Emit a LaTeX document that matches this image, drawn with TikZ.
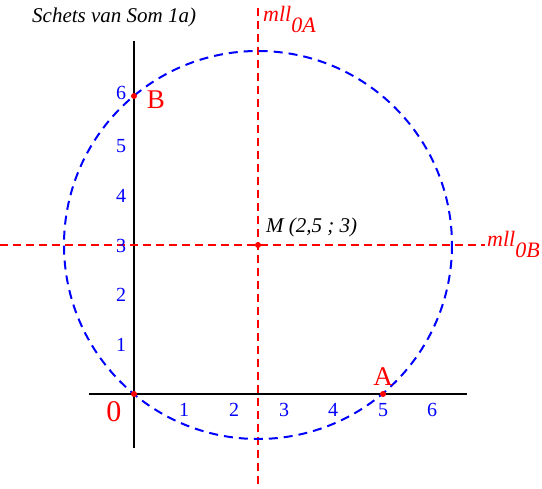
\documentclass[tikz,border=0pt]{standalone}
\usepackage{fontspec}
\setmainfont{Liberation Serif}
\begin{document}
\begin{tikzpicture}[x=1pt,y=-1pt,
  axis/.style={draw=black,line width=2pt},
  mll/.style={draw=red,line width=2pt,dash pattern=on 8pt off 5pt},
  circ/.style={draw=blue,line width=2pt,dash pattern=on 9pt off 6pt},
  dot/.style={circle,fill=red,inner sep=0pt,minimum size=6pt},
  tick/.style={text=blue,font=\fontsize{20}{20}\selectfont,inner sep=0pt},
  big/.style={text=red,font=\fontsize{27}{27}\selectfont,inner sep=0pt},
  lab/.style={text=red,font=\fontsize{22}{22}\selectfont\itshape,inner sep=0pt,anchor=base west},
  note/.style={inner sep=0pt,anchor=base west,font=\fontsize{21}{21}\selectfont\itshape}]
\useasboundingbox (0,0) rectangle (542,489);
% axes
\coordinate (ytop) at (134,41); \coordinate (ybot) at (134,448);
\coordinate (xl) at (89,394); \coordinate (xr) at (467,394);
\draw[axis] (ytop) -- (ybot);
\draw[axis] (xl) -- (xr);
% perpendicular bisectors
\coordinate (vt) at (258,8); \coordinate (vb) at (258,489);
\coordinate (hl) at (0,245); \coordinate (hr) at (485,245);
\draw[mll] (vt) -- (vb);
\draw[mll] (hl) -- (hr);
% circle
\coordinate (Mc) at (258,245);
\draw[circ] (Mc) circle[radius=194];
% points
\node[dot] (O) at (134,394) {};
\node[dot] (A) at (383,394) {};
\node[dot] (B) at (134,96) {};
\node[dot] (M) at (258,245) {};
% labels
\node[big] (lA) at (383,377) {A};
\node[big] (lB) at (156,100) {B};
\node[big,font=\fontsize{30}{30}\selectfont] (l0) at (114,412) {0};
\node[note] (lM) at (266,233) {M (2,5 ; 3)};
\node[note] (title) at (32,23) {Schets van Som 1a)};
\node[lab] (l0A) at (263,22) {mll\raisebox{-0.5em}{0A}};
\node[lab] (l0B) at (487,247) {mll\raisebox{-0.5em}{0B}};
% ticks
\foreach \i/\x in {1/184,2/234,3/284,4/333,5/383,6/432}
  \node[tick] (tx\i) at (\x,410) {\i};
\foreach \i/\y in {1/345,2/295,3/246,4/196,5/146,6/93}
  \node[tick] (ty\i) at (121,\y) {\i};
\end{tikzpicture}
\end{document}
